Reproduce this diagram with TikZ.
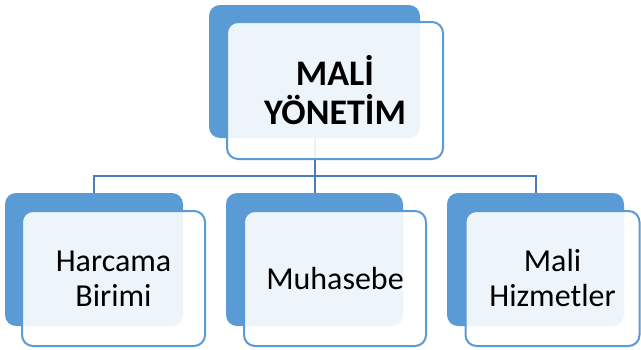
\documentclass[tikz,border=0pt]{standalone}
\usepackage{fontspec}
\setmainfont{Carlito}
\definecolor{darkblue}{HTML}{5B9BD5}
\definecolor{connblue}{HTML}{4A7EBB}
\tikzset{
  back/.style={fill=darkblue, draw=none, rounded corners=11pt, inner sep=0pt},
  front/.style={fill=white, fill opacity=0.9, text opacity=1, draw=darkblue, line width=2pt, rounded corners=11pt, inner sep=0pt, align=center},
  conn/.style={draw=connblue, line width=2pt},
  toptext/.style={font=\fontsize{36}{39}\selectfont\bfseries},
  subtext/.style={font=\fontsize{32}{35}\selectfont},
}
\begin{document}
\begin{tikzpicture}[x=1pt,y=-1pt]
\useasboundingbox (0,0) rectangle (641,349);
% back boxes
\node[back, minimum width=211pt, minimum height=133pt] (d0) at (314.5,71.5) {};
\node[back, minimum width=178pt, minimum height=133pt] (d1) at (94,259.5) {};
\node[back, minimum width=177pt, minimum height=133pt] (d2) at (314.5,259.5) {};
\node[back, minimum width=177pt, minimum height=133pt] (d3) at (535.5,259.5) {};
% connectors
\coordinate (bus) at (0,176);
\draw[conn] (d0.south) -- (d0.south |- bus);
\draw[conn] (d1.north) -- (d1.north |- bus) -- (d3.north |- bus) -- (d3.north);
\draw[conn] (d0.south |- bus) -- (d2.north);
% front boxes
\node[front, minimum width=216pt, minimum height=137pt] (l0) at (335,90.5) {};
\node[front, minimum width=183pt, minimum height=135pt] (l1) at (113.5,278.5) {};
\node[front, minimum width=182pt, minimum height=135pt] (l2) at (335,278.5) {};
\node[front, minimum width=174pt, minimum height=135pt] (l3) at (552.5,278.5) {};
% texts
\node[toptext, align=center] (t0) at (l0.center) {MALİ\\YÖNETİM};
\node[subtext, align=center] (t1) at (l1.center) {Harcama\\Birimi};
\node[subtext, align=center] (t2) at (l2.center) {Muhasebe};
\node[subtext, align=center] (t3) at (l3.center) {Mali\\Hizmetler};
\end{tikzpicture}
\end{document}
